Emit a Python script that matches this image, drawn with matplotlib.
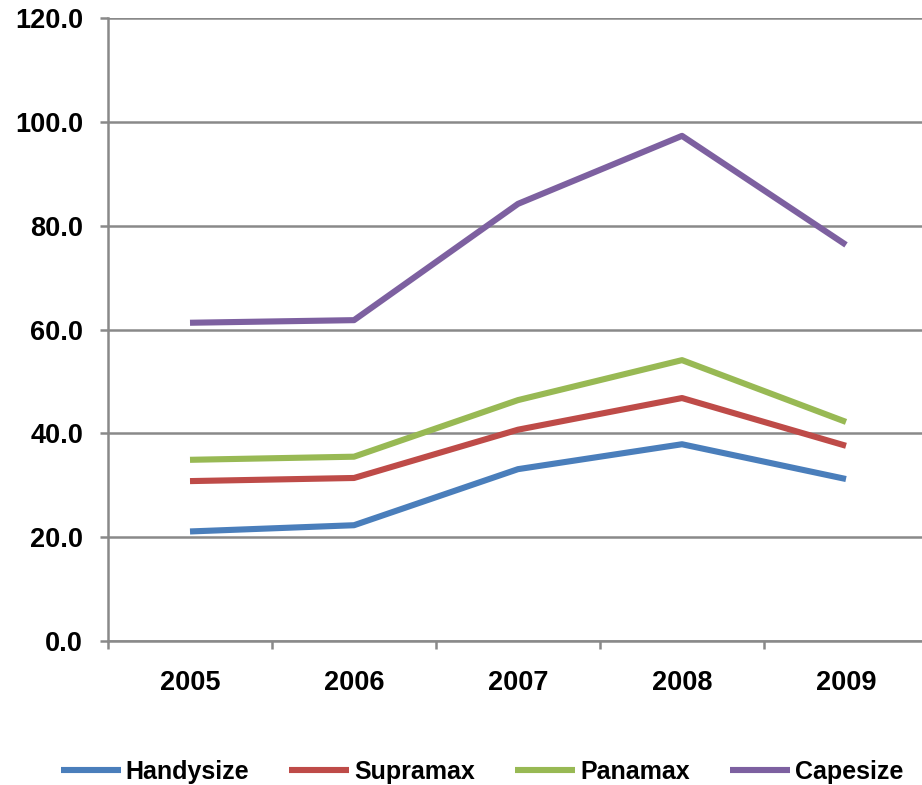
import numpy as np
import matplotlib.pyplot as plt

plt.rcParams['font.family'] = ['Liberation Sans', 'DejaVu Sans']

years = ['2005', '2006', '2007', '2008', '2009']
handysize = [21.1, 22.3, 33.1, 37.9, 31.2]
supramax = [30.8, 31.4, 40.7, 46.8, 37.6]
panamax = [34.9, 35.5, 46.4, 54.1, 42.2]
capesize = [61.3, 61.8, 84.2, 97.3, 76.3]

series = [
    ('Handysize', handysize, '#4A7EBB'),
    ('Supramax', supramax, '#BE4B48'),
    ('Panamax', panamax, '#98B954'),
    ('Capesize', capesize, '#7D60A0'),
]

W, H = 922, 785
fig = plt.figure(figsize=(W / 100, H / 100), dpi=100)
fig.set_facecolor('white')
ax = fig.add_axes([108 / W, 1 - 641 / H, 820 / W, (641 - 18) / H])

x = np.arange(len(years))
for name, vals, col in series:
    ax.plot(x, vals, color=col, lw=4.4, label=name, solid_capstyle='butt',
            solid_joinstyle='round')

grid_col = '#898989'
ax.set_xlim(-0.5, len(years) - 0.5)
ax.set_ylim(0, 120)
ax.set_yticks(np.arange(0, 121, 20))
ax.set_yticklabels([f'{v:.1f}' for v in np.arange(0, 121, 20)],
                   fontsize=19.5, fontweight='bold')
ax.yaxis.grid(True, color=grid_col, lw=1.8)
ax.set_axisbelow(True)

ax.set_xticks(x)
ax.set_xticklabels(years, fontsize=19.5, fontweight='bold')
ax.set_xticks(np.arange(-0.5, len(years)), minor=True)
ax.tick_params(axis='x', which='major', length=0, pad=21)
ax.tick_params(axis='x', which='minor', length=6, width=1.8, color=grid_col)
ax.tick_params(axis='y', length=6, width=1.8, color=grid_col, pad=12)

for s in ['top', 'right']:
    ax.spines[s].set_visible(False)
for s in ['left', 'bottom']:
    ax.spines[s].set_color(grid_col)
    ax.spines[s].set_linewidth(1.8)

leg = fig.legend(loc='center', bbox_to_anchor=(482 / W, 1 - 772 / H), ncol=4,
                 frameon=False, prop={'weight': 'bold', 'size': 18},
                 handlelength=2.4, handletextpad=0.2, columnspacing=1.6)

fig.savefig('out.png', dpi=100)
